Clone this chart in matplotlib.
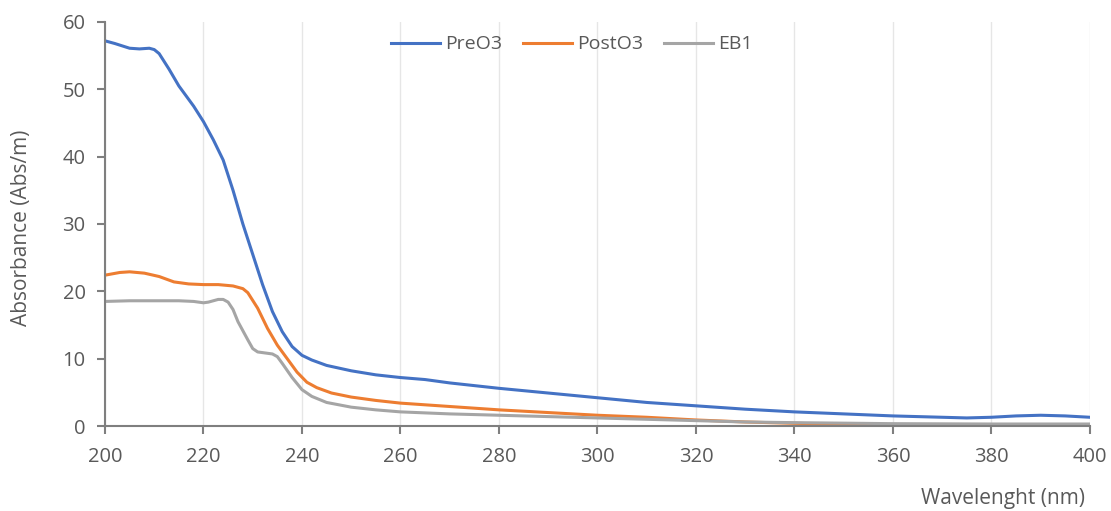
import matplotlib.pyplot as plt

plt.rcParams['font.family'] = ['Open Sans', 'DejaVu Sans']

# absorbance spectra, read at irregular wavelength steps
pre_wl = [200, 202, 205, 207, 209, 210, 211, 213, 215, 218, 220, 222, 224, 226, 228,
          230, 232, 234, 236, 238, 240, 242, 245, 250, 255, 260, 265, 270, 280,
          290, 300, 310, 320, 330, 340, 350, 360, 370, 375, 380, 385, 390, 395, 400]
pre_o3 = [57.2, 56.8, 56.1, 56.0, 56.1, 55.9, 55.3, 53.0, 50.5, 47.5, 45.2, 42.5, 39.5, 35.0, 30.0,
          25.5, 21.0, 17.0, 14.0, 11.8, 10.5, 9.8, 9.0, 8.2, 7.6, 7.2, 6.9, 6.4, 5.6,
          4.9, 4.2, 3.5, 3.0, 2.5, 2.1, 1.8, 1.5, 1.3, 1.2, 1.3, 1.5, 1.6, 1.5, 1.3]

post_wl = [200, 203, 205, 208, 211, 214, 217, 220, 223, 226, 228, 229, 231, 233,
           235, 237, 239, 241, 243, 246, 250, 255, 260, 270, 280, 290, 300, 310,
           320, 330, 340, 350, 360, 380, 400]
post_o3 = [22.4, 22.8, 22.9, 22.7, 22.2, 21.4, 21.1, 21.0, 21.0, 20.8, 20.4, 19.8, 17.5, 14.5,
           12.0, 10.0, 8.0, 6.5, 5.7, 4.9, 4.3, 3.8, 3.4, 2.9, 2.4, 2.0, 1.6, 1.3,
           0.9, 0.6, 0.4, 0.25, 0.15, 0.1, 0.05]

eb_wl = [200, 205, 210, 215, 218, 220, 221, 223, 224, 225, 226, 227, 229, 230,
         231, 233, 234, 235, 236, 238, 240, 242, 245, 250, 255, 260, 270, 280,
         290, 300, 310, 320, 330, 340, 360, 380, 400]
eb1 = [18.5, 18.6, 18.6, 18.6, 18.5, 18.3, 18.4, 18.8, 18.8, 18.4, 17.3, 15.5, 12.8, 11.5,
       11.0, 10.8, 10.7, 10.3, 9.3, 7.2, 5.4, 4.4, 3.5, 2.8, 2.4, 2.1, 1.8, 1.6,
       1.4, 1.2, 1.0, 0.8, 0.6, 0.5, 0.35, 0.3, 0.3]

text_col = '#595959'
axis_col = '#7f7f7f'

fig = plt.figure(figsize=(11.11, 5.11), dpi=100)
ax = fig.add_axes([0.0945, 0.1663, 0.8865, 0.7907])

ax.plot(pre_wl, pre_o3, color='#4472C4', lw=2.2, label='PreO3')
ax.plot(post_wl, post_o3, color='#ED7D31', lw=2.2, label='PostO3')
ax.plot(eb_wl, eb1, color='#A5A5A5', lw=2.2, label='EB1')

ax.set_xlim(200, 400)
ax.set_ylim(0, 60)
ax.set_xticks(range(200, 401, 20))
ax.set_yticks(range(0, 61, 10))
ax.grid(axis='x', color='#e6e6e6', lw=1)
ax.set_axisbelow(True)

for side in ('top', 'right'):
    ax.spines[side].set_visible(False)
for side in ('left', 'bottom'):
    ax.spines[side].set_color(axis_col)
    ax.spines[side].set_linewidth(1.5)
ax.tick_params(colors=axis_col, labelcolor=text_col, labelsize=14.5,
               length=6, width=1.5, direction='out')
ax.tick_params(axis='x', pad=9)
ax.tick_params(axis='y', pad=8)

ax.set_ylabel('Absorbance (Abs/m)', fontsize=15, color=text_col)
ax.yaxis.set_label_coords(-0.074, 0.49)
fig.text(0.977, 0.003, 'Wavelenght (nm)', fontsize=15, color=text_col, ha='right', va='bottom')

ax.legend(loc='upper center', bbox_to_anchor=(0.474, 1.01), ncol=3, frameon=False,
          fontsize=14, labelcolor=text_col, handlelength=2.5, columnspacing=1.1,
          handletextpad=0.26)

fig.savefig('out.png', dpi=100)
